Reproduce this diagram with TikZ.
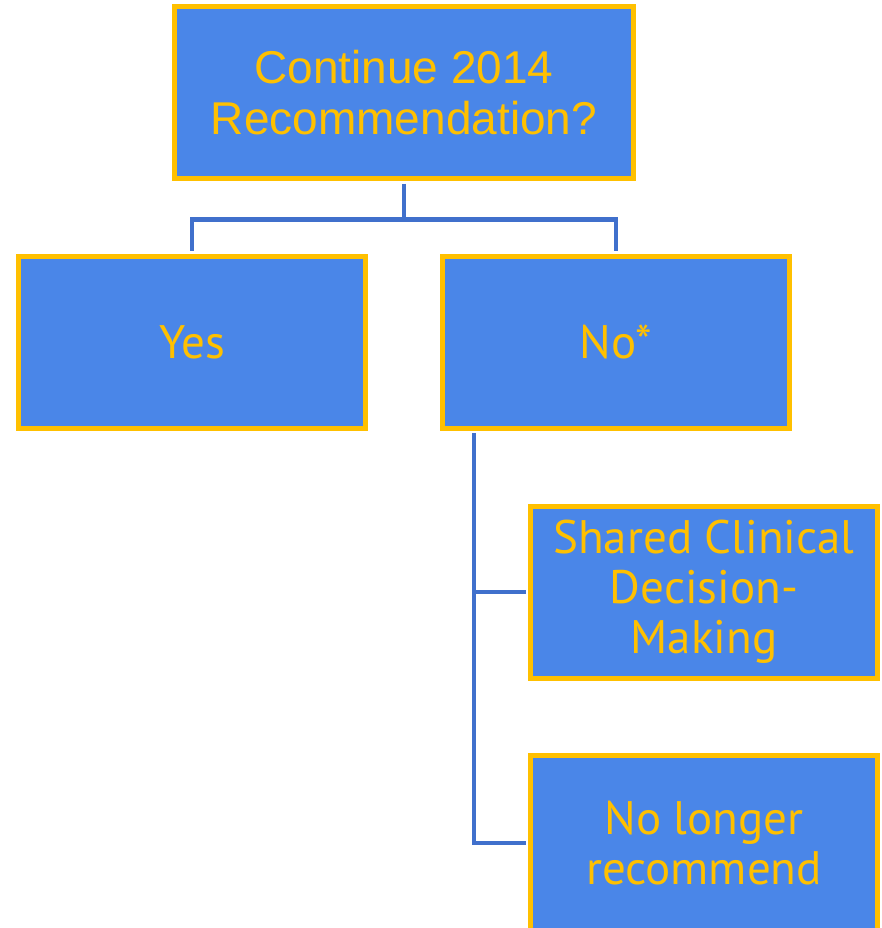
\documentclass[tikz,border=0pt]{standalone}
\usepackage{fontspec}
\setmainfont{Liberation Sans}
\newfontfamily\boxfont{PT Sans}
\usetikzlibrary{positioning}
\definecolor{boxblue}{RGB}{74,134,232}
\definecolor{boxgold}{RGB}{255,192,0}
\definecolor{linkblue}{RGB}{64,112,204}

\begin{document}
\begin{tikzpicture}[x=1pt,y=1pt,
  every node/.style={scale=1.0},
  boxes/.style={rectangle,draw=boxgold,fill=boxblue,line width=5pt,text=boxgold,minimum width=347pt,minimum height=172pt,align=center,inner sep=0pt,on grid,font=\boxfont\fontsize{47}{50}\selectfont},
  links/.style={draw=linkblue,line width=4.5pt,shorten <=2.5pt,shorten >=2.5pt},
]
\useasboundingbox (0,0) rectangle (882,-928);

\node (question) [boxes,minimum width=459pt,font=\fontsize{46}{51}\selectfont] at (404,-93) {
Continue 2014\\Recommendation?
};

\node (yes) [boxes,below left=249pt and 212pt of question] {Yes};
\node (no) [boxes,below right=249pt and 212pt of question] {No*};

\node (shared) [boxes,below right=250pt and 88pt of no] {Shared Clinical\\Decision-\\Making};
\node (nolonger) [boxes,below=251pt of shared,minimum height=176pt] {No longer\\recommend};

\coordinate (fork) at ([yshift=-38pt]question.south);
\draw[links] (question.south) -- (fork) -| (yes.north);
\draw[links] (question.south) -- (fork) -| (no.north);

\coordinate (trunk) at ([xshift=34pt]no.south west);
\draw[links] (trunk) |- (shared.west);
\draw[links] (trunk) |- (nolonger.west);
\end{tikzpicture}
\end{document}
